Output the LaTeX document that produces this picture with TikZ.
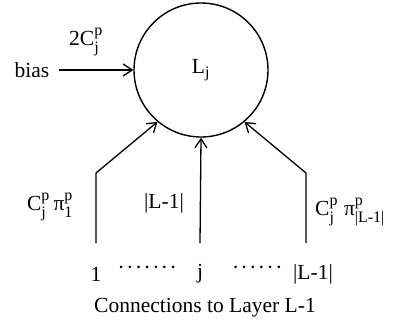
\documentclass[tikz,border=0pt]{standalone}
\usepackage{amsmath}
\usepackage{fontspec}
\setmainfont{Liberation Serif}
\DeclareMathSizes{21.5}{21.5}{16}{12}
\usetikzlibrary{arrows.meta}

\begin{document}
\begin{tikzpicture}[
		x=1pt, y=-1pt,
		font=\fontsize{21.5}{26}\selectfont,
		arrow/.style={-{Straight Barb[length=9pt, width=12pt]}, line width=1.3pt},
		neuron/.style={circle, draw, line width=1.4pt, minimum size=134pt, inner sep=0pt},
		lbl/.style={inner sep=1pt}
		]
		\useasboundingbox (0,0) rectangle (395,324);
		
		% ---- Unit of layer L ----
		\node[neuron] (Lj) at (201, 70) {L$_\text{j}$};
		
		% ---- Bias input ----
		\node[lbl] (bias) at (32, 70) {bias};
		\node[lbl] (wbias) at (86, 42) {2C$_\text{j}^\text{p}$};
		\draw[arrow] (bias.east) ++(8,0) -- (Lj.west);
		
		% ---- Units of layer L-1 ----
		\node[lbl] (u1) at (96, 274) {1};
		\node[lbl] (d1) at (148, 270) {\foreach \k in {1,...,7}{·\kern1.5pt}};
		\node[lbl] (uj) at (200, 274) {j};
		\node[lbl] (d2) at (258, 270) {\foreach \k in {1,...,6}{·\kern1.5pt}};
		\node[lbl] (un) at (313, 274) {|L-1|};
		\node[lbl] (cap) at (205, 308) {Connections to Layer L-1};
		
		% ---- Bend points of the side connections ----
		\coordinate (b1) at (96, 243);
		\coordinate (k1) at (96, 173);
		\coordinate (bj) at (200, 243);
		\coordinate (bn) at (306, 243);
		\coordinate (kn) at (306, 173);
		
		% ---- Arrows from layer L-1 ----
		\draw[arrow] (b1) -- (k1) -- (Lj.230);
		\draw[arrow] (bj) -- (Lj.270);
		\draw[arrow] (bn) -- (kn) -- (Lj.310);
		
		% ---- Weights ----
		\node[lbl] (w1) at (50, 207) {C$_\text{j}^\text{p}$\,$\text{π}_\text{1}^\text{p}$};
		\node[lbl] (wj) at (164, 203) {|L-1|};
		\node[lbl, anchor=west] (wn) at (314, 212) {C$_\text{j}^\text{p}$\;$\text{π}_\text{|L-1|}^\text{p}$};
	\end{tikzpicture}
\end{document}
